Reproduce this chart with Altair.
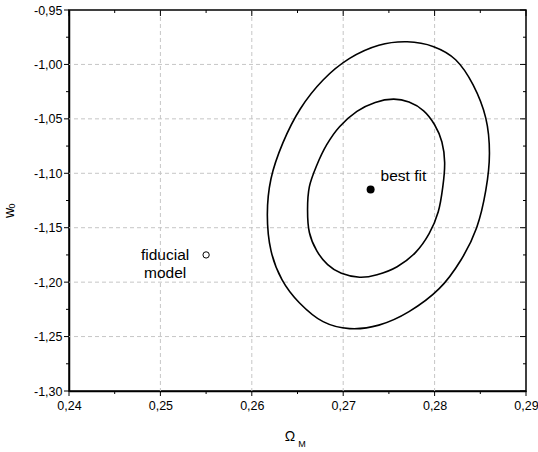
import altair as alt
import pandas as pd

# ---- data ----
OUTER_X = [0.2860, 0.2856, 0.2846, 0.2829, 0.2805, 0.2772, 0.2739, 0.2707,
           0.2678, 0.2652, 0.2633, 0.2621, 0.2617, 0.2621, 0.2634, 0.2653,
           0.2678, 0.2707, 0.2739, 0.2770, 0.2799, 0.2823, 0.2842, 0.2856]
OUTER_Y = [-1.0815, -1.1158, -1.1500, -1.1794, -1.2060, -1.2271, -1.2395, -1.2427,
           -1.2363, -1.2189, -1.1977, -1.1711, -1.1380, -1.1050, -1.0721, -1.0409,
           -1.0143, -0.9945, -0.9824, -0.9792, -0.9837, -0.9957, -1.0186, -1.0493]
INNER_X = [0.2811, 0.2809, 0.2804, 0.2794, 0.2779, 0.2759, 0.2737, 0.2718,
           0.2698, 0.2683, 0.2671, 0.2663, 0.2661, 0.2663, 0.2671, 0.2682,
           0.2696, 0.2715, 0.2735, 0.2755, 0.2772, 0.2788, 0.2800, 0.2808]
INNER_Y = [-1.0900, -1.1123, -1.1353, -1.1555, -1.1729, -1.1858, -1.1932, -1.1955,
           -1.1919, -1.1839, -1.1711, -1.1544, -1.1334, -1.1123, -1.0928, -1.0737,
           -1.0572, -1.0431, -1.0349, -1.0319, -1.0346, -1.0426, -1.0554, -1.0712]
BEST_FIT_X = [0.273]
BEST_FIT_Y = [-1.115]
BEST_FIT_LABEL = ["best fit"]
FIDUCIAL_X = [0.255]
FIDUCIAL_Y = [-1.175]
FIDUCIAL_LABEL = ["fiducial\nmodel"]

X_MAJOR = [0.24, 0.25, 0.26, 0.27, 0.28, 0.29]
X_MINOR = [0.245, 0.255, 0.265, 0.275, 0.285]
Y_MAJOR = [-1.30, -1.25, -1.20, -1.15, -1.10, -1.05, -1.00, -0.95]
Y_MINOR = [-1.275, -1.225, -1.175, -1.125, -1.075, -1.025, -0.975]

FONT = "Liberation Sans"
W, H = 457, 381

outer_df = pd.DataFrame({"x": OUTER_X, "y": OUTER_Y, "o": list(range(len(OUTER_X)))})
inner_df = pd.DataFrame({"x": INNER_X, "y": INNER_Y, "o": list(range(len(INNER_X)))})
best_df = pd.DataFrame({"x": BEST_FIT_X, "y": BEST_FIT_Y, "label": BEST_FIT_LABEL})
fid_df = pd.DataFrame({"x": FIDUCIAL_X, "y": FIDUCIAL_Y, "label": FIDUCIAL_LABEL})
xmaj_df = pd.DataFrame({"x": X_MAJOR})
xmin_df = pd.DataFrame({"x": X_MINOR})
ymaj_df = pd.DataFrame({"y": Y_MAJOR})
ymin_df = pd.DataFrame({"y": Y_MINOR})
xgrid_df = pd.DataFrame({"x": X_MAJOR[1:-1]})
ygrid_df = pd.DataFrame({"y": Y_MAJOR[1:-1]})

xscale = alt.Scale(domain=[X_MAJOR[0], X_MAJOR[-1]], nice=False, zero=False)
yscale = alt.Scale(domain=[Y_MAJOR[0], Y_MAJOR[-1]], nice=False, zero=False)

X_LABEL = "replace(format(datum.value, '.2f'), '.', ',')"
Y_LABEL = "(datum.value < 0 ? '-' : '') + replace(format(abs(datum.value), '.2f'), '.', ',')"

common = dict(title=None, tickSize=5, tickOpacity=0, domainColor="black",
              domainWidth=1.5, labelFont=FONT, labelFontSize=12.5,
              labelColor="black", labelFlush=False, labelOverlap=False, grid=False)
ax_bottom = alt.Axis(orient="bottom", values=X_MAJOR, labelPadding=3,
                     labelExpr=X_LABEL, **common)
ax_left = alt.Axis(orient="left", values=Y_MAJOR, labelPadding=2,
                   labelExpr=Y_LABEL, **common)


def X(f):
    return alt.X(f, scale=xscale, axis=ax_bottom, title=None)


def Y(f):
    return alt.Y(f, scale=yscale, axis=ax_left, title=None)


GRID = dict(color="#c6c6c6", strokeDash=[4, 3], strokeWidth=1)
xgrid = alt.Chart(xgrid_df).mark_rule(**GRID).encode(x=X("x:Q"))
ygrid = alt.Chart(ygrid_df).mark_rule(**GRID).encode(y=Y("y:Q"))

outer = alt.Chart(outer_df).mark_line(
    color="black", strokeWidth=1.6, interpolate="cardinal-closed").encode(
    x=X("x:Q"), y=Y("y:Q"), order="o:Q")
inner = alt.Chart(inner_df).mark_line(
    color="black", strokeWidth=1.6, interpolate="cardinal-closed").encode(
    x=X("x:Q"), y=Y("y:Q"), order="o:Q")
best = alt.Chart(best_df).mark_circle(color="black", size=64, opacity=1).encode(
    x=X("x:Q"), y=Y("y:Q"))
fid = alt.Chart(fid_df).mark_point(shape="circle", filled=False, fill="white",
                                   stroke="black", strokeWidth=1, size=40,
                                   opacity=1).encode(x=X("x:Q"), y=Y("y:Q"))
best_text = alt.Chart(best_df).mark_text(
    align="left", baseline="middle", dx=10, dy=-14, font=FONT, fontSize=15.5,
    color="black").encode(x=X("x:Q"), y=Y("y:Q"), text="label:N")
fid_text = alt.Chart(fid_df).mark_text(
    align="center", baseline="middle", dx=-41, dy=0, font=FONT, fontSize=15.5,
    lineBreak="\n", lineHeight=18.5, color="black").encode(
    x=X("x:Q"), y=Y("y:Q"), text="label:N")

# tick marks (outward on bottom/left, inward on top/right)
TICK = dict(color="black", strokeWidth=1)
ticks = [
    alt.Chart(xmaj_df).mark_rule(**TICK).encode(x=X("x:Q"), y=alt.value(H), y2=alt.value(H + 5)),
    alt.Chart(xmin_df).mark_rule(**TICK).encode(x=X("x:Q"), y=alt.value(H), y2=alt.value(H + 3)),
    alt.Chart(xmaj_df).mark_rule(**TICK).encode(x=X("x:Q"), y=alt.value(0), y2=alt.value(6)),
    alt.Chart(xmin_df).mark_rule(**TICK).encode(x=X("x:Q"), y=alt.value(0), y2=alt.value(3)),
    alt.Chart(ymaj_df).mark_rule(**TICK).encode(y=Y("y:Q"), x=alt.value(0), x2=alt.value(-5)),
    alt.Chart(ymin_df).mark_rule(**TICK).encode(y=Y("y:Q"), x=alt.value(0), x2=alt.value(-3)),
    alt.Chart(ymaj_df).mark_rule(**TICK).encode(y=Y("y:Q"), x=alt.value(W), x2=alt.value(W - 6)),
    alt.Chart(ymin_df).mark_rule(**TICK).encode(y=Y("y:Q"), x=alt.value(W), x2=alt.value(W - 3)),
]

# axis titles (with subscripts)
title_src = alt.Chart(best_df)
omega = title_src.mark_text(font=FONT, fontSize=14, color="black",
                            baseline="middle", align="center").encode(
    x=alt.value(221), y=alt.value(427), text=alt.value("Ω"))
omega_sub = title_src.mark_text(font=FONT, fontSize=9, color="black",
                                baseline="middle", align="center").encode(
    x=alt.value(233), y=alt.value(433.5), text=alt.value("M"))
w_main = title_src.mark_text(font=FONT, fontSize=14, color="black", angle=270,
                             baseline="middle", align="center").encode(
    x=alt.value(-59.5), y=alt.value(203), text=alt.value("w"))
w_sub = title_src.mark_text(font=FONT, fontSize=9, color="black", angle=270,
                            baseline="middle", align="center").encode(
    x=alt.value(-57), y=alt.value(196), text=alt.value("0"))

chart = alt.layer(
    xgrid, ygrid, outer, inner, best, fid, best_text, fid_text, *ticks,
    omega, omega_sub, w_main, w_sub,
).properties(
    width=W, height=H,
    autosize=alt.AutoSizeParams(type="none"),
    padding={"left": 69, "top": 10, "right": 12, "bottom": 61},
    background="white",
).configure_view(
    stroke="black", strokeWidth=1.5
)

chart.save("out.html", embed_options={"renderer": "svg", "actions": False})
